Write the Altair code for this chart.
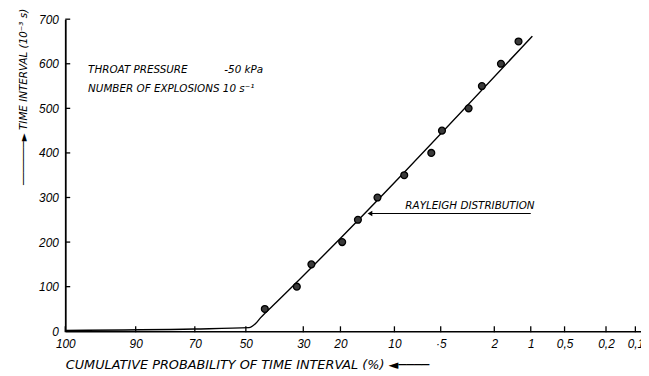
import numpy as np
import pandas as pd
import altair as alt

# ---- data (Rayleigh probability paper) ----
prob_pts = [42.9, 32.0, 27.6, 19.6, 16.2, 12.6, 8.7, 5.8, 4.9, 3.15, 2.5, 1.77, 1.27]
time_pts = [50, 100, 150, 200, 250, 300, 350, 400, 450, 500, 550, 600, 650]

prob_line = [100, 70, 48.8, 46.5, 44.5, 38.6, 0.97]
time_line = [2, 5, 8, 16, 30, 66, 662]

tick_prob = [100, 90, 70, 50, 30, 20, 10, 5, 2, 1, 0.5, 0.2, 0.1]
tick_labels = ["100", "90", "70", "50", "30", "20", "10", "·5", "2", "1", "0,5", "0,2", "0,1"]
y_ticks = [0, 100, 200, 300, 400, 500, 600, 700]

ann_text = ["THROAT PRESSURE", "-50 kPa", "NUMBER OF EXPLOSIONS 10 s\u207b\u00b9", "RAYLEIGH DISTRIBUTION"]
ann_prob = [98.9, 58.4, 98.9, 8.56]
ann_time = [585, 585, 543, 280]

arrow_prob = [13.9, 1.0]
arrow_time = [264, 264]


def rz(p):
    """Rayleigh-paper abscissa: sqrt(-ln(P))."""
    return np.sqrt(np.abs(-np.log(np.asarray(p, dtype=float) / 100.0)))


pts = pd.DataFrame({"u": rz(prob_pts), "t": time_pts})
line = pd.DataFrame({"u": rz(prob_line), "t": time_line})
ticks = pd.DataFrame({"u": rz(tick_prob), "lab": tick_labels})
yt = pd.DataFrame({"t": y_ticks[1:]})
ann = pd.DataFrame({"u": rz(ann_prob), "t": ann_time, "txt": ann_text})
arrow = pd.DataFrame({"u": rz(arrow_prob), "t": arrow_time})
head = arrow.iloc[:1]

W, H = 583, 316
u_max = float(rz([0.1])[0]) * 583 / 577.3

label_expr = ""
for uu, lab in zip(rz(tick_prob), tick_labels):
    label_expr += f"abs(datum.value-{uu:.5f})<0.003?'{lab}':"
label_expr += "''"

FONT = "DejaVu Sans"
NUMFONT = "Liberation Sans"


def X():
    return alt.X(
        "u:Q",
        scale=alt.Scale(domain=[0, u_max], nice=False, zero=False),
        axis=alt.Axis(
            values=[float(v) for v in rz(tick_prob)],
            labelExpr=label_expr,
            grid=False, ticks=False, domainColor="black", domainWidth=1.6,
            labelFont=NUMFONT, labelFontStyle="italic", labelFontSize=12,
            labelColor="black", labelPadding=7, labelFlush=False,
            labelOverlap=False,
            title="CUMULATIVE PROBABILITY OF TIME INTERVAL (%)  \u25c4\u2500\u2500\u2500\u2500",
            titleFont=FONT, titleFontStyle="italic", titleFontWeight="normal",
            titleFontSize=13, titleColor="black",
            titleAlign="left", titleAnchor="start", titleX=0, titleY=38,
            titleBaseline="alphabetic",
        ),
    )


def Y():
    return alt.Y(
        "t:Q",
        scale=alt.Scale(domain=[0, 700], nice=False),
        axis=alt.Axis(
            values=y_ticks, grid=False, ticks=False,
            domainColor="black", domainWidth=1.8,
            labelFont=NUMFONT, labelFontStyle="italic", labelFontSize=12,
            labelColor="black", labelPadding=7,
            title="\u2500" * 7 + "\u25ba  TIME INTERVAL (10\u207b\u00b3 s)",
            titleFont=FONT, titleFontStyle="italic", titleFontWeight="normal",
            titleFontSize=10.5, titleColor="black",
            titleAngle=270, titleAlign="right", titleBaseline="middle",
            titleX=-42, titleY=-11,
        ),
    )


curve = alt.Chart(line).mark_line(color="black", strokeWidth=1.4, interpolate="monotone").encode(
    x=X(), y=Y()
)
dots = alt.Chart(pts).mark_point(
    shape="circle", filled=True, size=48, fill="#3a3a3a", stroke="black", strokeWidth=1.3, opacity=1
).encode(x=X(), y=Y())

xticks = alt.Chart(ticks).mark_rule(color="black", strokeWidth=1.3).encode(
    x=X(), y=alt.value(H + 1), y2=alt.value(H - 5)
)
yticks = alt.Chart(yt).mark_rule(color="black", strokeWidth=1.3).encode(
    y=Y(), x=alt.value(0), x2=alt.value(5)
)

texts = alt.Chart(ann).mark_text(
    align="left", baseline="middle", font=FONT, fontStyle="italic", fontSize=10.5, color="black"
).encode(x=X(), y=Y(), text="txt:N")

arrow_line = alt.Chart(arrow).mark_line(color="black", strokeWidth=1.1).encode(x=X(), y=Y())
arrow_head = alt.Chart(head).mark_point(
    shape="triangle-left", filled=True, size=30, color="black", opacity=1
).encode(x=X(), y=Y())

chart = alt.layer(curve, dots, xticks, yticks, texts, arrow_line, arrow_head).properties(
    width=W, height=H,
    autosize=alt.AutoSizeParams(type="none"),
    padding={"left": 58, "top": 9, "right": 0, "bottom": 43},
    background="white",
).configure_view(stroke=None)

chart.save("out.html", embed_options={"renderer": "svg", "actions": False})
